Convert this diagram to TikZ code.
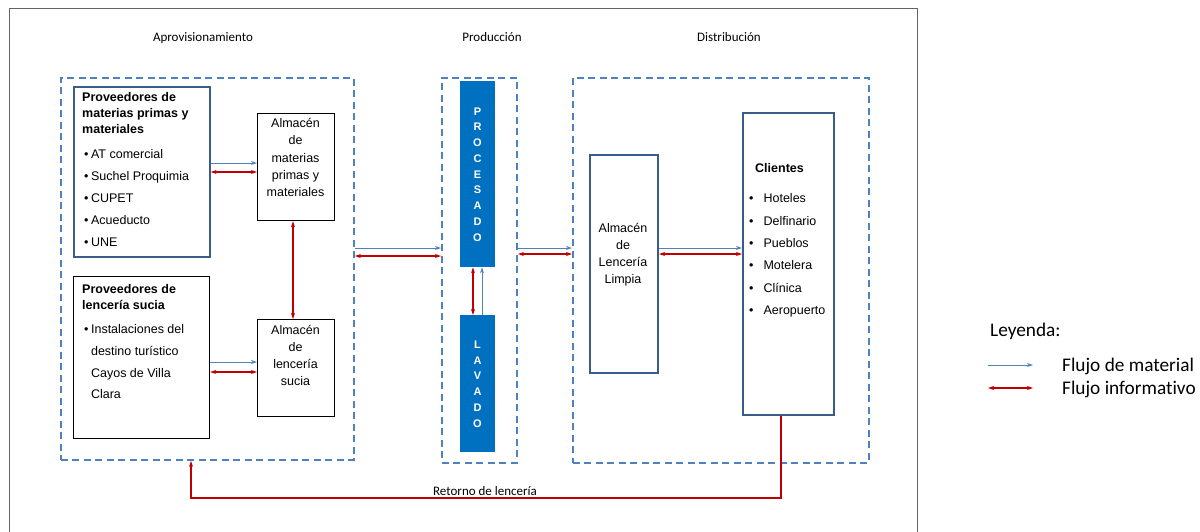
\documentclass[tikz,border=0pt]{standalone}
\usepackage{fontspec}
\setmainfont{Liberation Sans}
\newfontfamily\calfont[Ligatures=NoCommon]{Carlito}
\usetikzlibrary{arrows.meta}
\definecolor{dblue}{RGB}{79,129,189}
\definecolor{bdr}{RGB}{56,93,138}
\definecolor{ired}{RGB}{192,0,0}
\definecolor{procblue}{RGB}{0,112,192}
\definecolor{framegray}{RGB}{100,100,100}
\begin{document}
\begin{tikzpicture}[x=1pt,y=-1pt,
 grp/.style={draw=dblue, line width=1.8pt, dash pattern=on 7pt off 4.5pt, anchor=north west, inner sep=0},
 box/.style={draw=black, line width=1.2pt, anchor=north west, inner sep=0, fill=white},
 bbox/.style={box, draw=bdr, line width=1.6pt},
 proc/.style={fill=procblue, draw=none, anchor=north west, inner sep=0},
 txt/.style={inner sep=0},
 ttl/.style={inner sep=0, anchor=base, font=\calfont\fontsize{13}{15}\selectfont},
 leg/.style={inner sep=0, anchor=base west, font=\calfont\fontsize{19.3}{22}\selectfont},
 mat/.style={draw=dblue, line width=1pt, -{Stealth[length=6pt,width=4pt]}},
 info/.style={draw=ired, line width=1.3pt, {Stealth[length=6pt,width=4pt]}-{Stealth[length=6pt,width=4pt]}},
 retl/.style={draw=ired, line width=1.2pt, -{Stealth[length=6pt,width=4pt]}}
]
\useasboundingbox (0,0) rectangle (1200,531);
\draw[framegray, line width=1pt] (9,535) -- (9,8) -- (917,8) -- (917,535);

% titles
\node[ttl] (t1) at (203,41) {Aprovisionamiento};
\node[ttl] (t2) at (492,41) {Producción};
\node[ttl] (t3) at (729,41) {Distribución};

% groups
\node[grp, minimum width=293pt, minimum height=382pt] (apro) at (60,77) {};
\node[grp, minimum width=75pt, minimum height=385pt] (prod) at (441,77) {};
\node[grp, minimum width=296pt, minimum height=385pt] (dist) at (572,77) {};

% boxes
\node[bbox, minimum width=136pt, minimum height=170pt] (p1) at (73,86) {};
\node[box, minimum width=77pt, minimum height=107pt] (amp) at (257,113) {};
\node[box, minimum width=136pt, minimum height=162pt] (p2) at (73,276) {};
\node[box, minimum width=77pt, minimum height=97pt] (als) at (257,319) {};
\node[proc, minimum width=35pt, minimum height=186pt] (pro) at (460,81) {};
\node[proc, minimum width=35pt, minimum height=137pt] (lav) at (460,315) {};
\node[bbox, line width=2pt, minimum width=68pt, minimum height=218pt] (all) at (589,154) {};
\node[bbox, line width=2pt, minimum width=91pt, minimum height=302pt] (cli) at (742,112) {};

% box texts
\node[txt, anchor=north west, font=\fontsize{12.5}{16}\selectfont\bfseries] (p1h) at (82,90.3)
 {\begin{tabular}{@{}l@{}}Proveedores de\\materias primas y\\materiales\end{tabular}};
\node[txt, anchor=north west, font=\fontsize{12.5}{22}\selectfont] (p1b) at (84,143.1)
 {\begin{tabular}{@{}l@{\hspace{2.5pt}}l@{}}•&AT comercial\\•&Suchel Proquimia\\•&CUPET\\•&Acueducto\\•&UNE\end{tabular}};
\node[txt, anchor=north west, font=\fontsize{12.5}{16}\selectfont\bfseries] (p2h) at (82,282.3)
 {\begin{tabular}{@{}l@{}}Proveedores de\\lencería sucia\end{tabular}};
\node[txt, anchor=north west, font=\fontsize{12.5}{21.7}\selectfont] (p2b) at (84,318.3)
 {\begin{tabular}{@{}l@{\hspace{2.5pt}}l@{}}•&Instalaciones del\\&destino turístico\\&Cayos de Villa\\&Clara\end{tabular}};
\node[txt, anchor=north, font=\fontsize{12.5}{17.2}\selectfont] (ampt) at (295.5,115.5)
 {\begin{tabular}{@{}c@{}}Almacén\\de\\materias\\primas y\\materiales\end{tabular}};
\node[txt, anchor=north, font=\fontsize{12.5}{17}\selectfont] (alst) at (295.5,322.6)
 {\begin{tabular}{@{}c@{}}Almacén\\de\\lencería\\sucia\end{tabular}};
\node[txt, anchor=north, font=\fontsize{12.5}{17}\selectfont] (allt) at (623,220.6)
 {\begin{tabular}{@{}c@{}}Almacén\\de\\Lencería\\Limpia\end{tabular}};
\node[txt, anchor=base west, font=\fontsize{12.5}{16}\selectfont\bfseries] (clih) at (755,172.5) {Clientes};
\node[txt, anchor=north west, font=\fontsize{12.5}{22.4}\selectfont] (clib) at (749,186.8)
 {\begin{tabular}{@{}l@{\hspace{10pt}}l@{}}•&Hoteles\\•&Delfinario\\•&Pueblos\\•&Motelera\\•&Clínica\\•&Aeropuerto\end{tabular}};
\node[txt, anchor=north, text=white, font=\fontsize{11}{15.75}\selectfont\bfseries] (prot) at (477.5,104)
 {\begin{tabular}{@{}c@{}}P\\R\\O\\C\\E\\S\\A\\D\\O\end{tabular}};
\node[txt, anchor=north, text=white, font=\fontsize{11}{15.8}\selectfont\bfseries] (lavt) at (477.5,337)
 {\begin{tabular}{@{}c@{}}L\\A\\V\\A\\D\\O\end{tabular}};

% connectors
\draw[mat] (p1.east |- 0,163) -- (amp.west |- 0,163);
\draw[info] (p1.east |- 0,172) -- (amp.west |- 0,172);
\draw[mat] (p2.east |- 0,362) -- (als.west |- 0,362);
\draw[info] (p2.east |- 0,372) -- (als.west |- 0,372);
\draw[info] (amp.south -| 293,0) -- (als.north -| 293,0);
\draw[mat] (apro.east |- 0,248) -- (prod.west |- 0,248);
\draw[info] (apro.east |- 0,256) -- (prod.west |- 0,256);
\draw[mat] (prod.east |- 0,248) -- (dist.west |- 0,248);
\draw[info] (prod.east |- 0,254) -- (dist.west |- 0,254);
\draw[mat] (all.east |- 0,248) -- (cli.west |- 0,248);
\draw[info] (all.east |- 0,254) -- (cli.west |- 0,254);
\draw[info] (lav.north -| 473,0) -- (pro.south -| 473,0);
\draw[mat] (lav.north -| 482,0) -- (pro.south -| 482,0);
\coordinate (ret) at (191,498);
\draw[retl] (cli.south -| 781,0) |- (ret) -- (ret |- apro.south);
\node[ttl] (rtxt) at (485,495) {Retorno de lencería};

% legend
\node[leg] (ley) at (990,336) {Leyenda:};
\coordinate (lm1) at (988,365);
\coordinate (lm2) at (1033,365);
\draw[mat] (lm1) -- (lm2);
\node[leg] (lmt) at (1062,371) {Flujo de material};
\coordinate (li1) at (988,388);
\coordinate (li2) at (1033,388);
\draw[info] (li1) -- (li2);
\node[leg] (lit) at (1062,394) {Flujo informativo};
\end{tikzpicture}
\end{document}
